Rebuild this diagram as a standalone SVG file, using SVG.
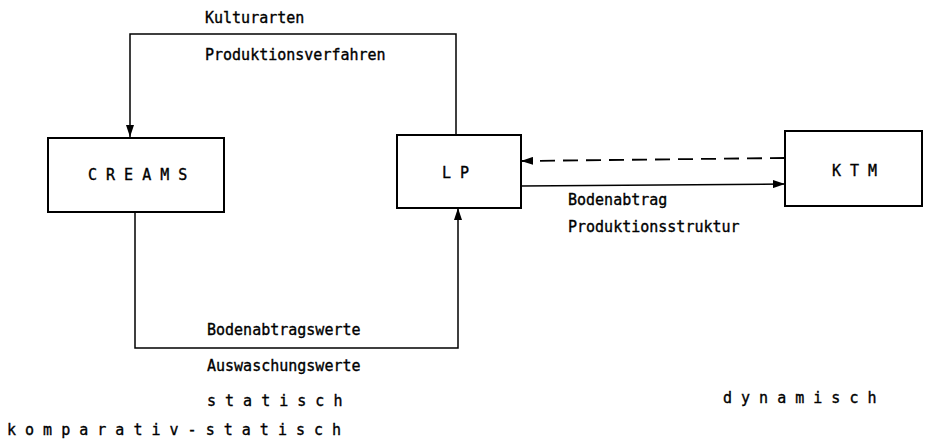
<svg xmlns="http://www.w3.org/2000/svg" width="926" height="441" viewBox="0 0 926 441">
<style>
.box{fill:#fff;stroke:#000;stroke-width:2}
.c{fill:none;stroke:#000;stroke-width:1.5}
.d{fill:none;stroke:#000;stroke-width:1.8;stroke-dasharray:15 8}
text{font-family:"DejaVu Sans Mono","Liberation Mono",monospace;font-size:15px;fill:#000;stroke:#000;stroke-width:0.35}
</style>
<defs>
<marker id="ah" viewBox="0 0 12 8" refX="12" refY="4" markerWidth="12" markerHeight="8" markerUnits="userSpaceOnUse" orient="auto">
<path d="M0,0 L12,4 L0,8 Z" fill="#000"/>
</marker>
</defs>
<rect width="926" height="441" fill="#fff"/>
<g id="connectors">
<polyline class="c" points="456,135 456,34 130,34 130,137" marker-end="url(#ah)"/>
<polyline class="c" points="135,212 135,348 458,348 458,208" marker-end="url(#ah)"/>
<line class="d" x1="785" y1="158" x2="521" y2="161" marker-end="url(#ah)"/>
<line class="c" x1="521" y1="186" x2="785" y2="184" marker-end="url(#ah)"/>
</g>
<g id="labels">
<text x="205" y="23">Kulturarten</text>
<text x="205" y="60">Produktionsverfahren</text>
<text x="568" y="205">Bodenabtrag</text>
<text x="568" y="232">Produktionsstruktur</text>
<text x="207" y="335">Bodenabtragswerte</text>
<text x="207" y="371">Auswaschungswerte</text>
<text x="207" y="406">s t a t i s c h</text>
<text x="7" y="435">k o m p a r a t i v - s t a t i s c h</text>
<text x="723" y="403">d y n a m i s c h</text>
</g>
<g id="creams">
<rect class="box" x="48" y="138" width="176" height="74"/>
<text x="88" y="180">C R E A M S</text>
</g>
<g id="lp">
<rect class="box" x="397" y="135" width="124" height="73"/>
<text x="442" y="178">L P</text>
</g>
<g id="ktm">
<rect class="box" x="785" y="131" width="137" height="75"/>
<text x="832" y="176">K T M</text>
</g>
</svg>
